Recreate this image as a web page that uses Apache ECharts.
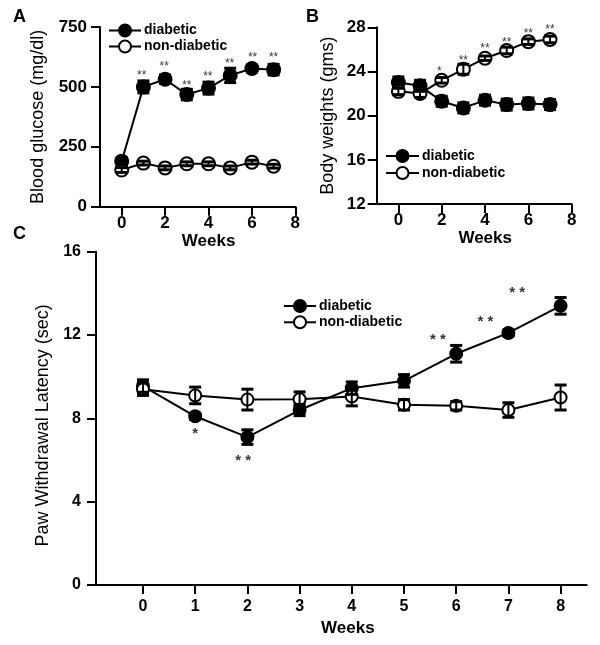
<!DOCTYPE html>
<html>
<head>
<meta charset="utf-8">
<script src="https://cdn.jsdelivr.net/npm/echarts@6/dist/echarts.min.js"></script>
<style>html,body{margin:0;padding:0;background:#fff}#c{width:600px;height:645px}</style>
</head>
<body>
<div id="c"></div>
<script>
// ---------- data ----------
const weeksAB = [0, 1, 2, 3, 4, 5, 6, 7];
const glucoseDiab = [190, 500, 532, 468, 495, 548, 577, 572];
const glucoseDiabErr = [15, 25, 18, 22, 25, 30, 15, 22];
const glucoseNon = [153, 182, 162, 179, 179, 162, 186, 169];
const glucoseNonErr = [10, 8, 8, 8, 8, 8, 8, 8];
const glucoseStarX = [0.92, 1.96, 3.0, 3.97, 4.97, 6.03, 7.0];
const glucoseStarY = [561, 597, 517, 556, 608, 636, 636];
const glucoseStarText = ['**', '**', '**', '**', '**', '**', '**'];

const weightDiab = [23.0, 22.7, 21.3, 20.7, 21.4, 21.0, 21.1, 21.0];
const weightDiabErr = [0.5, 0.5, 0.45, 0.45, 0.45, 0.5, 0.5, 0.45];
const weightNon = [22.2, 22.0, 23.2, 24.2, 25.2, 25.9, 26.7, 26.9];
const weightNonErr = [0.3, 0.35, 0.25, 0.45, 0.2, 0.3, 0.25, 0.3];
const weightStarX = [1.89, 3.0, 4.0, 5.0, 6.0, 7.0];
const weightStarY = [24.29, 25.28, 26.31, 26.91, 27.69, 28.05];
const weightStarText = ['*', '**', '**', '**', '**', '**'];

const weeksC = [0, 1, 2, 3, 4, 5, 6, 7, 8];
const latencyDiab = [9.55, 8.1, 7.1, 8.4, 9.45, 9.8, 11.1, 12.1, 13.4];
const latencyDiabErr = [0.3, 0.15, 0.35, 0.27, 0.3, 0.3, 0.4, 0.15, 0.4];
const latencyNon = [9.4, 9.1, 8.9, 8.92, 9.05, 8.65, 8.6, 8.4, 9.0];
const latencyNonErr = [0.3, 0.4, 0.5, 0.35, 0.45, 0.25, 0.2, 0.35, 0.6];
const latencyStarX = [1.0, 1.92, 5.65, 6.56, 7.17];
const latencyStarY = [7.42, 6.08, 11.92, 12.77, 14.16];
const latencyStarText = ['*', '* *', '* *', '* *', '* *'];

const ticksAB = [0, 2, 4, 6, 8];
const ticksC = [0, 1, 2, 3, 4, 5, 6, 7, 8];

// ---------- helpers ----------
const FONT = 'Liberation Sans, Arial, Helvetica, sans-serif';
const BLK = '#000';

function pairs(xs, ys) { return xs.map((x, i) => [x, ys[i]]); }
function triples(xs, ys, es) { return xs.map((x, i) => [x, ys[i], es[i]]); }

function errSeries(idx, xs, ys, es, capHalf) {
  return {
    type: 'custom', xAxisIndex: idx, yAxisIndex: idx, z: 5, silent: true,
    data: triples(xs, ys, es),
    renderItem: function (params, api) {
      const x = api.value(0), y = api.value(1), e = api.value(2);
      const t = api.coord([x, y + e]);
      const b = api.coord([x, y - e]);
      return {
        type: 'group', children: [
          { type: 'line', shape: { x1: t[0], y1: t[1], x2: b[0], y2: b[1] }, style: { stroke: BLK, lineWidth: 2 } },
          { type: 'line', shape: { x1: t[0] - capHalf, y1: t[1], x2: t[0] + capHalf, y2: t[1] }, style: { stroke: BLK, lineWidth: 3 } },
          { type: 'line', shape: { x1: b[0] - capHalf, y1: b[1], x2: b[0] + capHalf, y2: b[1] }, style: { stroke: BLK, lineWidth: 3 } }
        ]
      };
    }
  };
}

function lineSeries(idx, name, xs, ys, filled, size, z) {
  return {
    type: 'line', name: name, xAxisIndex: idx, yAxisIndex: idx, z: z,
    data: pairs(xs, ys), symbol: 'circle', symbolSize: size, showSymbol: true,
    lineStyle: { color: BLK, width: 2 },
    itemStyle: { color: filled ? BLK : '#fff', borderColor: BLK, borderWidth: 2 },
    emphasis: { disabled: true }, animation: false
  };
}

function starSeries(idx, xs, ys, texts, fs, weight) {
  return {
    type: 'scatter', xAxisIndex: idx, yAxisIndex: idx, clip: false, z: 6, silent: true,
    symbolSize: 1, itemStyle: { color: 'rgba(0,0,0,0)' },
    data: xs.map((x, i) => ({ value: [x, ys[i]], label: { formatter: texts[i] } })),
    label: { show: true, position: 'inside', color: BLK, fontFamily: FONT, fontSize: fs, fontWeight: weight, offset: [0, Math.round(fs * 0.22)] },
    animation: false
  };
}

function xAxisOf(idx, min, max, ticks, fs, margin, nameGap, namePadLeft) {
  return {
    type: 'value', gridIndex: idx, min: min, max: max,
    name: 'Weeks', nameLocation: 'middle', nameGap: nameGap,
    nameTextStyle: { color: BLK, fontFamily: FONT, fontSize: 17, fontWeight: 'bold', padding: [0, 0, 0, namePadLeft] },
    axisLine: { show: true, onZero: false, lineStyle: { color: BLK, width: 2 } },
    axisTick: { show: true, length: 9, lineStyle: { color: BLK, width: 2 }, customValues: ticks },
    axisLabel: { show: true, color: BLK, fontFamily: FONT, fontSize: fs, fontWeight: 'bold', margin: margin, customValues: ticks },
    splitLine: { show: false }
  };
}

function yAxisOf(idx, min, max, interval, name, fs, margin, nameGap, namePad) {
  return {
    type: 'value', gridIndex: idx, min: min, max: max, interval: interval,
    name: name, nameLocation: 'middle', nameGap: nameGap, nameRotate: 90,
    nameTextStyle: { color: BLK, fontFamily: FONT, fontSize: 18, fontWeight: 'normal', padding: namePad },
    axisLine: { show: true, onZero: false, lineStyle: { color: BLK, width: 2 } },
    axisTick: { show: true, length: 9, lineStyle: { color: BLK, width: 2 } },
    axisLabel: { show: true, color: BLK, fontFamily: FONT, fontSize: fs, fontWeight: 'bold', margin: margin },
    splitLine: { show: false }
  };
}

function legendOf(left, top, gap, w) {
  return {
    orient: 'vertical', left: left, top: top, itemGap: gap, itemWidth: w, itemHeight: 15,
    selectedMode: false, padding: 0,
    data: ['diabetic', 'non-diabetic'],
    textStyle: { color: BLK, fontFamily: FONT, fontSize: 14, fontWeight: 'bold', padding: [0, 0, 0, -2] }
  };
}

const option = {
  backgroundColor: '#fff',
  animation: false,
  title: [
    { text: 'A', left: 8, top: 3, textStyle: { color: BLK, fontFamily: FONT, fontSize: 18, fontWeight: 'bold' } },
    { text: 'B', left: 301, top: 3, textStyle: { color: BLK, fontFamily: FONT, fontSize: 18, fontWeight: 'bold' } },
    { text: 'C', left: 8, top: 220, textStyle: { color: BLK, fontFamily: FONT, fontSize: 18, fontWeight: 'bold' } }
  ],
  legend: [legendOf(108, 23.5, 2, 32), legendOf(385, 149, 3, 33), legendOf(283, 299, 2.3, 32)],
  grid: [
    { left: 100, top: 27, width: 195.3, height: 179.7, outerBoundsMode: 'none', containLabel: false },
    { left: 376.7, top: 27.3, width: 195, height: 176.7, outerBoundsMode: 'none', containLabel: false },
    { left: 96, top: 251.7, width: 490.7, height: 333.3, outerBoundsMode: 'none', containLabel: false }
  ],
  xAxis: [
    xAxisOf(0, -1, 8, ticksAB, 17, 8, 26, 22),
    xAxisOf(1, -1, 8, ticksAB, 17, 8, 26, 22),
    xAxisOf(2, -0.9, 8.5, ticksC, 16, 14, 33, 13)
  ],
  yAxis: [
    yAxisOf(0, 0, 750, 250, 'Blood glucose (mg/dl)', 17, 13, 53, [0, 0, 0, 0]),
    yAxisOf(1, 12, 28, 4, 'Body weights (gms)', 17, 11, 40, [0, 0, 0, 0]),
    yAxisOf(2, 0, 16, 4, 'Paw Withdrawal Latency (sec)', 16, 15, 44, [0, 14, 0, 0])
  ],
  series: [
    lineSeries(0, 'diabetic', weeksAB, glucoseDiab, true, 13, 3),
    lineSeries(0, 'non-diabetic', weeksAB, glucoseNon, false, 13, 3),
    errSeries(0, weeksAB, glucoseDiab, glucoseDiabErr, 6),
    errSeries(0, weeksAB, glucoseNon, glucoseNonErr, 6),
    starSeries(0, glucoseStarX, glucoseStarY, glucoseStarText, 12, 'normal'),

    lineSeries(1, 'diabetic', weeksAB, weightDiab, true, 13, 3),
    lineSeries(1, 'non-diabetic', weeksAB, weightNon, false, 13, 3),
    errSeries(1, weeksAB, weightDiab, weightDiabErr, 6),
    errSeries(1, weeksAB, weightNon, weightNonErr, 6),
    starSeries(1, weightStarX, weightStarY, weightStarText, 12, 'normal'),

    lineSeries(2, 'diabetic', weeksC, latencyDiab, true, 12, 3),
    lineSeries(2, 'non-diabetic', weeksC, latencyNon, false, 12, 4),
    errSeries(2, weeksC, latencyDiab, latencyDiabErr, 6),
    errSeries(2, weeksC, latencyNon, latencyNonErr, 6),
    starSeries(2, latencyStarX, latencyStarY, latencyStarText, 15, 'bold')
  ]
};

const chart = echarts.init(document.getElementById('c'), null, { renderer: 'canvas' });
chart.setOption(option);
</script>
</body>
</html>
